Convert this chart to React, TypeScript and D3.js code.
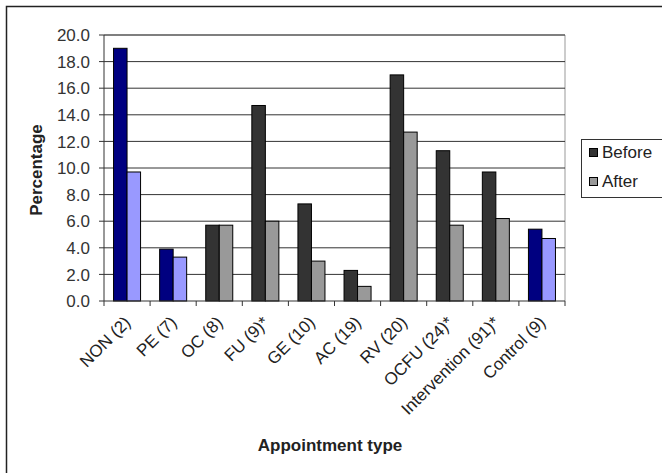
import React from "react";
import * as d3 from "d3";

const categories = ["NON (2)", "PE (7)", "OC (8)", "FU (9)*", "GE (10)", "AC (19)", "RV (20)", "OCFU (24)*", "Intervention (91)*", "Control (9)"];
const beforeValues = [19.0, 3.9, 5.7, 14.7, 7.3, 2.3, 17.0, 11.3, 9.7, 5.4];
const afterValues = [9.7, 3.3, 5.7, 6.0, 3.0, 1.1, 12.7, 5.7, 6.2, 4.7];
const highlighted = ["NON (2)", "PE (7)", "Control (9)"];
const yTicks = [0, 2, 4, 6, 8, 10, 12, 14, 16, 18, 20];
const seriesNames = ["Before", "After"];

const W = 662;
const H = 473;
const left = 104;
const right = 565;
const top = 35;
const bottom = 301;
const FONT = "'Liberation Sans', Arial, sans-serif";
const FS = 17;

export default function App() {
  const x = d3.scaleBand<string>().domain(categories).range([left, right]).paddingInner(0).paddingOuter(0);
  const y = d3.scaleLinear().domain([0, 20]).range([bottom, top]);
  const bw = x.bandwidth();
  const barW = bw * 0.293;
  const colors = (cat: string, s: number) => {
    const hi = highlighted.includes(cat);
    if (s === 0) return hi ? "#000080" : "#333333";
    return hi ? "#9999FF" : "#999999";
  };
  return (
    <svg width={W} height={H} style={{ position: "absolute", left: 0, top: 0, background: "#fff" }} fontFamily={FONT}>
      <rect x={0} y={0} width={W} height={H} fill="#fff" />
      <rect x={6.5} y={6.5} width={700} height={500} fill="none" stroke="#222" strokeWidth={1.5} />
      <line x1={left} x2={right} y1={top} y2={top} stroke="#999" />
      <line x1={right} x2={right} y1={top} y2={bottom} stroke="#999" />
      {yTicks.map((t) => (
        <g key={t}>
          {t > 0 && <line x1={left} x2={right} y1={y(t)} y2={y(t)} stroke="#333" strokeWidth={1} />}
          <line x1={left - 5} x2={left} y1={y(t)} y2={y(t)} stroke="#333" />
          <text x={left - 14} y={y(t)} dy="0.36em" textAnchor="end" fontSize={FS} fill="#333">
            {t.toFixed(1)}
          </text>
        </g>
      ))}
      {categories.map((c, i) => {
        const cx = (x(c) as number) + bw / 2;
        return (
          <g key={c}>
            {[beforeValues[i], afterValues[i]].map((v, s) => (
              <rect
                key={s}
                x={s === 0 ? cx - barW : cx}
                y={y(v)}
                width={barW}
                height={bottom - y(v)}
                fill={colors(c, s)}
                stroke="#000"
                strokeWidth={1}
              />
            ))}
          </g>
        );
      })}
      <line x1={left} x2={left} y1={top} y2={bottom} stroke="#333" />
      <line x1={left} x2={right} y1={bottom} y2={bottom} stroke="#333" />
      {categories.concat(["end"]).map((c, i) => {
        const xx = left + i * bw;
        return <line key={"t" + i} x1={xx} x2={xx} y1={bottom} y2={bottom + 5} stroke="#333" />;
      })}
      {categories.map((c) => {
        const cx = (x(c) as number) + bw / 2;
        return (
          <text
            key={"l" + c}
            transform={`translate(${cx - 4},${bottom + 14}) rotate(-45)`}
            textAnchor="end"
            dy="0.71em"
            fontSize={FS}
            fill="#222"
          >
            {c}
          </text>
        );
      })}
      <text
        transform={`translate(42,${(top + bottom) / 2 + 2}) rotate(-90)`}
        textAnchor="middle"
        fontSize={FS}
        fontWeight="bold"
        fill="#222"
      >
        Percentage
      </text>
      <text x={330} y={451} textAnchor="middle" fontSize={FS} fontWeight="bold" fill="#222">
        Appointment type
      </text>
      <rect x={581.5} y={139.5} width={100} height={58} fill="#fff" stroke="#333" />
      {seriesNames.map((n, i) => (
        <g key={n}>
          <rect x={589.5} y={148.5 + i * 29} width={8} height={8} fill={i === 0 ? "#333333" : "#999999"} stroke="#000" />
          <text x={602} y={158 + i * 29} fontSize={FS} fill="#222">
            {n}
          </text>
        </g>
      ))}
    </svg>
  );
}
